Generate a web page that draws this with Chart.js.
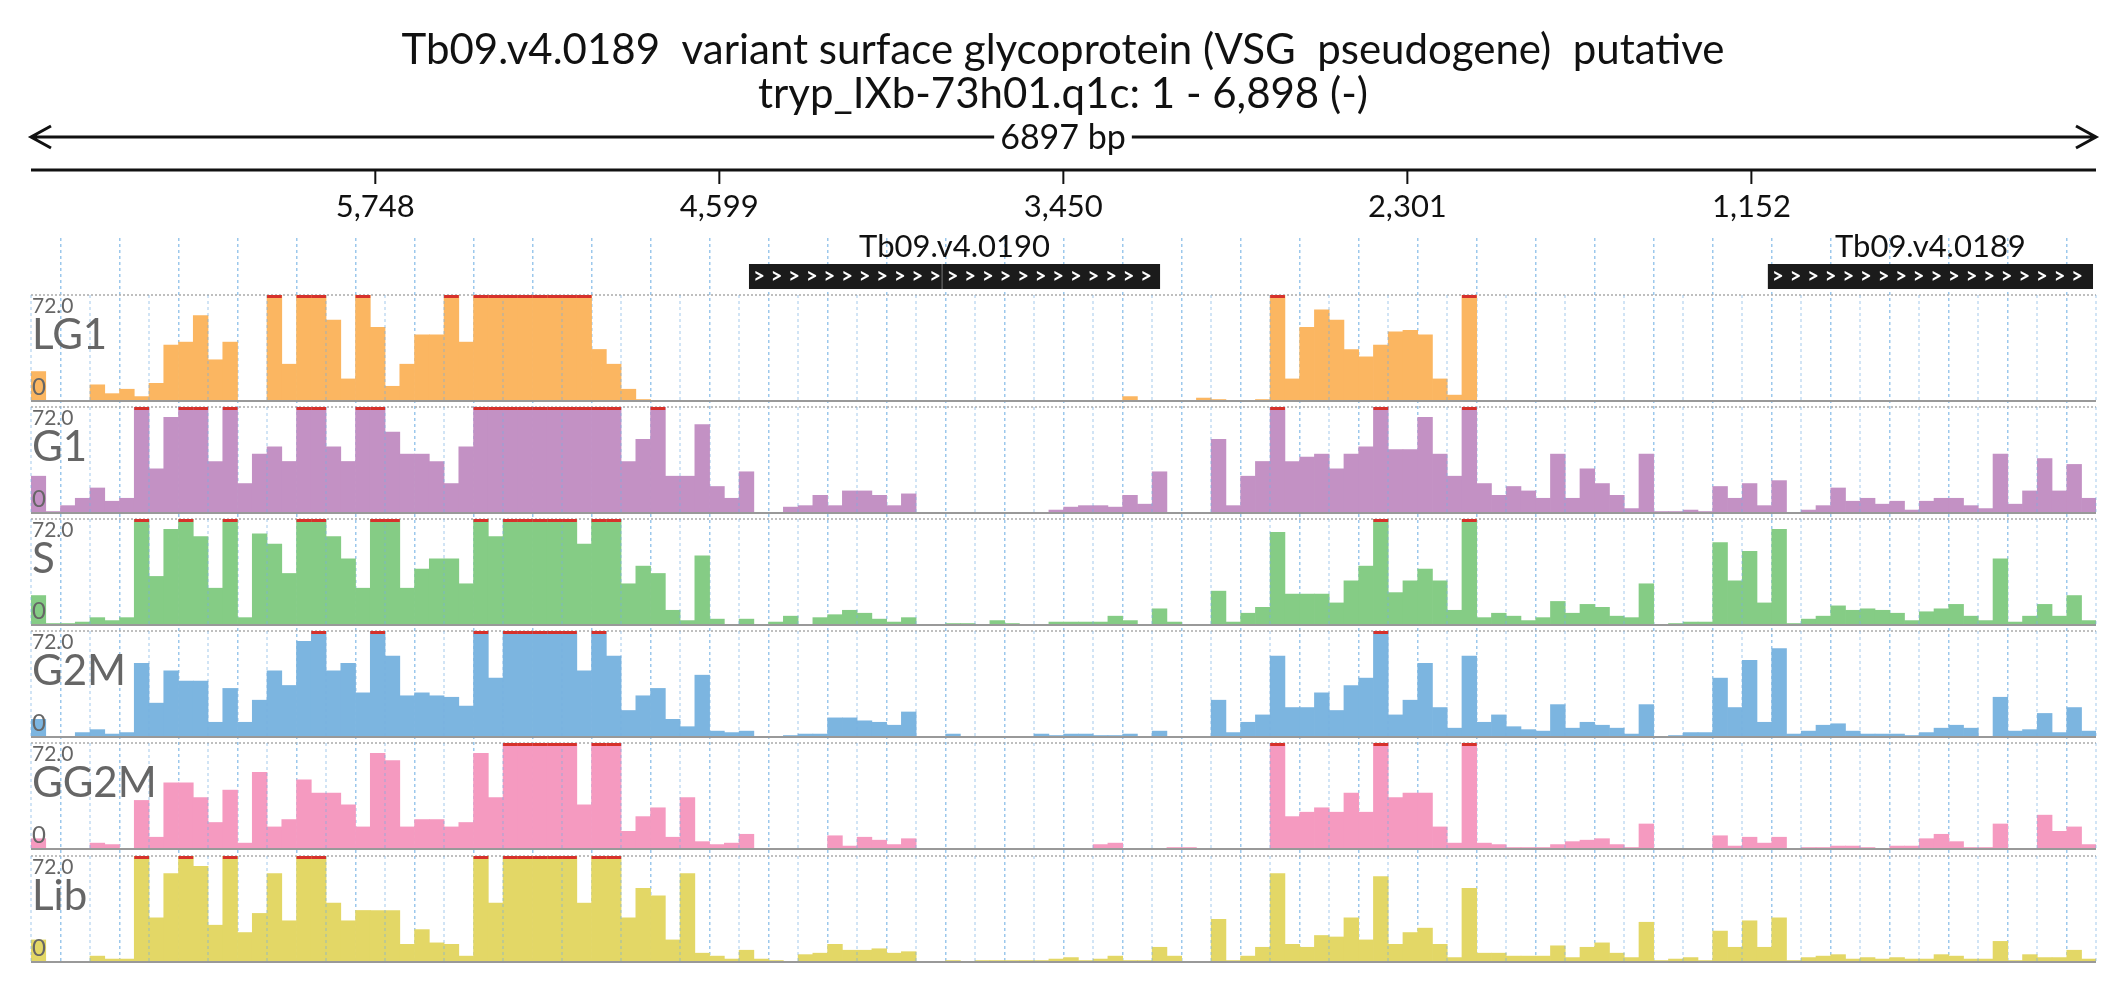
<!DOCTYPE html>
<html><head><meta charset="utf-8">
<script src="https://cdn.jsdelivr.net/npm/chart.js@4.4.1/dist/chart.umd.min.js"></script>
<style>
html,body{margin:0;padding:0;background:#fff;}
#wrap{position:relative;width:2126px;height:1000px;}
canvas{position:absolute;left:0;}
</style></head>
<body><div id="wrap">
<canvas id="hdr" width="2126" height="1000" style="top:0;width:2126px;height:1000px"></canvas>
</div>
<script>
const titleLines = ["Tb09.v4.0189  variant surface glycoprotein (VSG  pseudogene)  putative", "tryp_IXb-73h01.q1c: 1 - 6,898 (-)"];
const spanLabel = "6897 bp";
const seqStart = 1, seqEnd = 6898;
const rulerTicks = [5748, 4599, 3450, 2301, 1152];
const rulerLabels = ["5,748", "4,599", "3,450", "2,301", "1,152"];
const genes = [
  {name: "Tb09.v4.0190", from: 4500, to: 3127, split: 3855},
  {name: "Tb09.v4.0189", from: 1097, to: 11, split: null}
];
const trackNames = ["LG1", "G1", "S", "G2M", "GG2M", "Lib"];
const trackColors = ["#fbb661", "#c391c4", "#85cc85", "#7cb5e0", "#f59ac0", "#e3d766"];
const yMax = 72;
const binCount = 140;

const LG1 = [20,0,0,0,11,5,8,3,12,38,40,58,28,40,0,0,72,25,72,72,55,15,72,50,10,25,45,45,72,40,72,72,72,72,72,72,72,72,35,25,8,1,
 0,0,0,0,0,0,0,0,0,0,0,0,0,0,0,0,0,0,0,0,0,0,0,0,0,0,0,0,
 0,0,
 0,0,3,0,0,0,0,2,1,0,0,1,72,15,50,62,55,35,30,38,47,48,45,15,4,72,
 0,0,0,0,0,0,0,0,0,0,0,0,0,0,0,0,0,0,0,0,0,0,0,0,0,0,0,0,0,0,0,0,0,0,0,0,0,0,0,0,0,0];
const G1 = [25,1,5,10,17,8,10,72,30,65,72,72,35,72,20,40,45,35,72,72,45,35,72,72,55,40,40,35,20,45,72,72,
 72,72,72,72,72,72,72,72,35,50,72,25,25,60,18,10,28,0,0,4,5,12,5,15,15,12,5,13,0,0,0,0,0,0,0,0,0,2,
 4,5,
 5,4,12,6,28,0,0,0,50,5,25,35,72,35,38,40,30,40,45,72,43,43,65,40,25,72,20,12,18,15,10,40,10,30,20,12,3,40,1,1,
 2,1,18,10,20,5,22,0,2,5,17,8,10,6,8,2,8,10,10,5,3,40,6,15,37,15,33,10];
const S = [20,1,1,2,5,3,5,72,33,65,72,60,25,72,5,62,55,35,72,72,60,45,25,72,72,25,38,45,45,28,72,60,
 72,72,72,72,72,55,72,72,28,40,35,10,3,47,4,0,4,0,2,6,0,5,7,10,8,4,2,5,0,0,1,1,0,3,1,0,0,2,
 2,2,
 2,6,3,0,11,2,0,0,23,2,8,12,63,21,21,21,15,30,40,72,22,30,38,30,10,72,5,8,6,3,
 5,16,8,14,12,6,5,28,0,1,2,2,56,30,50,15,65,1,4,6,13,10,11,10,8,3,9,11,14,6,3,45,2,6,14,6,20,3];
const G2M = [12,0,0,3,5,2,3,50,23,45,38,38,10,33,10,25,45,35,65,72,45,50,30,72,55,28,30,28,27,21,72,40,
 72,72,72,72,72,45,72,55,18,28,33,12,7,42,4,3,4,0,0,1,2,2,13,13,11,10,8,17,0,0,2,0,0,0,0,0,2,1,
 2,2,
 1,1,2,0,4,0,0,0,25,3,10,15,55,20,20,30,18,35,40,72,15,25,50,20,6,55,10,15,7,5,
 4,22,6,10,8,6,2,22,0,1,3,3,40,20,52,10,60,2,4,8,9,4,2,2,2,1,3,6,8,6,0,27,4,5,16,3,20,4];
const GG2M = [7,0,0,0,4,3,0,33,8,45,45,35,18,40,4,52,15,20,47,38,38,30,15,65,60,15,20,20,15,18,65,35,
 72,72,72,72,72,30,72,72,12,22,28,8,35,5,3,4,10,0,0,0,0,0,9,2,8,6,3,7,0,0,0,0,0,0,0,0,0,0,
 0,0,
 3,4,0,0,0,1,1,0,0,0,0,0,72,22,25,28,25,38,25,72,35,38,38,15,4,72,4,3,1,1,
 1,3,5,6,7,3,1,17,0,0,0,0,9,2,8,4,8,0,1,1,2,2,1,0,2,2,7,10,5,1,1,17,0,0,23,12,15,3];
const Lib = [15,0,0,0,4,2,2,72,30,60,72,65,25,72,20,33,60,28,72,72,40,28,35,35,35,12,22,13,12,4,72,40,
 72,72,72,72,72,40,72,72,30,50,45,15,60,6,4,2,8,2,1,0,5,6,12,8,8,9,6,7,0,0,1,0,1,1,1,1,1,2,
 3,1,
 2,4,1,1,10,4,0,0,29,1,4,10,60,12,10,18,17,30,15,58,12,20,23,12,3,50,6,6,4,4,
 4,11,3,10,13,6,3,27,1,2,3,1,21,10,28,10,30,1,3,4,5,2,3,2,3,2,2,5,4,2,2,14,1,5,3,3,8,2];
const trackData = [LG1, G1, S, G2M, GG2M, Lib];

const FONT = "Lato, 'Open Sans', sans-serif";
const PAD_L = 31, PAD_R = 30;
const trackTops = [295, 407, 519, 631, 743, 856];
const trackH = 106;
const binW = (seqEnd - seqStart + 1) / binCount;
const gridVals = [];
for (let k = 0; k <= 35; k++) gridVals.push(seqEnd - k * (seqEnd - seqStart) / 35);

function xScale(extra) {
  return Object.assign({
    type: 'linear', min: seqStart, max: seqEnd, reverse: true, offset: false,
    afterBuildTicks: ax => { ax.ticks = gridVals.map(v => ({value: v})); },
    ticks: {display: false}, border: {display: false}
  }, extra);
}

const headerPlugin = {
  id: 'hdr',
  afterDraw(chart) {
    const ctx = chart.ctx, xs = chart.scales.x;
    const L = xs.getPixelForValue(seqEnd), R = xs.getPixelForValue(seqStart);
    ctx.save();
    ctx.fillStyle = '#111'; ctx.textAlign = 'center'; ctx.textBaseline = 'middle';
    ctx.font = '42px ' + FONT;
    ctx.fillText(titleLines[0], 1063, 50);
    ctx.fillText(titleLines[1], 1063, 94);
    ctx.strokeStyle = '#111'; ctx.lineWidth = 3;
    ctx.beginPath(); ctx.moveTo(L, 137); ctx.lineTo(R, 137);
    ctx.moveTo(L + 20, 126); ctx.lineTo(L, 137); ctx.lineTo(L + 20, 148);
    ctx.moveTo(R - 20, 126); ctx.lineTo(R, 137); ctx.lineTo(R - 20, 148);
    ctx.stroke();
    ctx.font = '34px ' + FONT;
    const tw = ctx.measureText(spanLabel).width;
    ctx.fillStyle = '#fff'; ctx.fillRect(1063 - tw / 2 - 6, 118, tw + 12, 38);
    ctx.fillStyle = '#111'; ctx.fillText(spanLabel, 1063, 138);
    ctx.lineWidth = 3;
    ctx.beginPath(); ctx.moveTo(L, 170); ctx.lineTo(R, 170); ctx.stroke();
    ctx.lineWidth = 2; ctx.font = '31px ' + FONT;
    rulerTicks.forEach((v, i) => {
      const p = xs.getPixelForValue(v);
      ctx.beginPath(); ctx.moveTo(p, 170); ctx.lineTo(p, 184); ctx.stroke();
      ctx.fillText(rulerLabels[i], p, 207);
    });
    genes.forEach(g => {
      const a = xs.getPixelForValue(g.from), b = xs.getPixelForValue(g.to);
      ctx.fillStyle = '#1b1b1b'; ctx.fillRect(a, 264, b - a, 25);
      if (g.split) {
        const s = xs.getPixelForValue(g.split);
        ctx.strokeStyle = '#777'; ctx.lineWidth = 1;
        ctx.beginPath(); ctx.moveTo(s, 264); ctx.lineTo(s, 289); ctx.stroke();
      }
      ctx.fillStyle = '#fff'; ctx.font = 'bold 20px ' + FONT;
      for (let x = a + 10; x < b - 8; x += 17.6) ctx.fillText('>', x, 277);
      ctx.fillStyle = '#111'; ctx.font = '31px ' + FONT;
      ctx.fillText(g.name, (a + b) / 2, 247);
    });
    ctx.restore();
  }
};

new Chart(document.getElementById('hdr'), {
  type: 'bar',
  data: {datasets: []},
  options: {
    responsive: false, animation: false,
    layout: {padding: {left: PAD_L, right: PAD_R, top: 238, bottom: 37}},
    plugins: {legend: {display: false}, tooltip: {enabled: false}},
    scales: {
      x: xScale({grid: {color: '#9cc8ec', lineWidth: 1.5, drawTicks: false}, border: {display: false, dash: [3, 3]}}),
      y: {display: false, min: 0, max: yMax}
    }
  },
  plugins: [headerPlugin]
});

const wrap = document.getElementById('wrap');
trackNames.forEach((name, ti) => {
  const cv = document.createElement('canvas');
  cv.width = 2126; cv.height = trackH + 2;
  cv.style.top = (trackTops[ti] - 1) + 'px';
  cv.style.width = '2126px'; cv.style.height = (trackH + 2) + 'px';
  wrap.appendChild(cv);
  const vals = trackData[ti];
  const pts = vals.map((v, j) => ({x: seqEnd - (j + 0.5) * binW, y: Math.min(v, yMax)}));
  const trackPlugin = {
    id: 'trk' + ti,
    beforeDatasetsDraw(chart) {
      const ctx = chart.ctx, a = chart.chartArea, ys = chart.scales.y;
      ctx.save();
      ctx.strokeStyle = '#aaa'; ctx.lineWidth = 1.5; ctx.setLineDash([2, 2]);
      const yt = ys.getPixelForValue(yMax);
      ctx.beginPath(); ctx.moveTo(a.left, yt); ctx.lineTo(a.right, yt); ctx.stroke();
      ctx.restore();
    },
    afterDatasetsDraw(chart) {
      const ctx = chart.ctx, a = chart.chartArea, ys = chart.scales.y, xs = chart.scales.x;
      const meta = chart.getDatasetMeta(0);
      ctx.save();
      ctx.strokeStyle = 'rgba(120,175,225,0.45)'; ctx.lineWidth = 1.5; ctx.setLineDash([3, 3]);
      gridVals.forEach(v => {
        const p = xs.getPixelForValue(v);
        ctx.beginPath(); ctx.moveTo(p, a.top); ctx.lineTo(p, a.bottom); ctx.stroke();
      });
      ctx.setLineDash([]);
      ctx.fillStyle = '#d6312b';
      meta.data.forEach((el, j) => {
        if (vals[j] >= yMax) ctx.fillRect(el.x - el.width / 2, ys.getPixelForValue(yMax), el.width, 3);
      });
      const yb = ys.getPixelForValue(0);
      ctx.strokeStyle = '#999'; ctx.lineWidth = 2;
      ctx.beginPath(); ctx.moveTo(a.left, yb); ctx.lineTo(a.right, yb); ctx.stroke();
      ctx.fillStyle = '#666'; ctx.textAlign = 'left'; ctx.textBaseline = 'middle';
      ctx.font = '21px ' + FONT; ctx.fillText('72.0', a.left + 1, a.top + 11);
      ctx.font = '42px ' + FONT; ctx.fillText(name, a.left + 1, a.top + 40);
      ctx.font = '24px ' + FONT; ctx.fillText('0', a.left + 1, yb - 14);
      ctx.restore();
    }
  };
  new Chart(cv, {
    type: 'bar',
    data: {datasets: [{data: pts, backgroundColor: trackColors[ti], borderWidth: 0,
      barPercentage: 1.0, categoryPercentage: 1.0}]},
    options: {
      responsive: false, animation: false,
      layout: {padding: {left: PAD_L, right: PAD_R, top: 1, bottom: 1}},
      plugins: {legend: {display: false}, tooltip: {enabled: false}},
      scales: {
        x: xScale({display: false}),
        y: {display: false, min: 0, max: yMax}
      }
    },
    plugins: [trackPlugin]
  });
});
</script>
</body></html>
